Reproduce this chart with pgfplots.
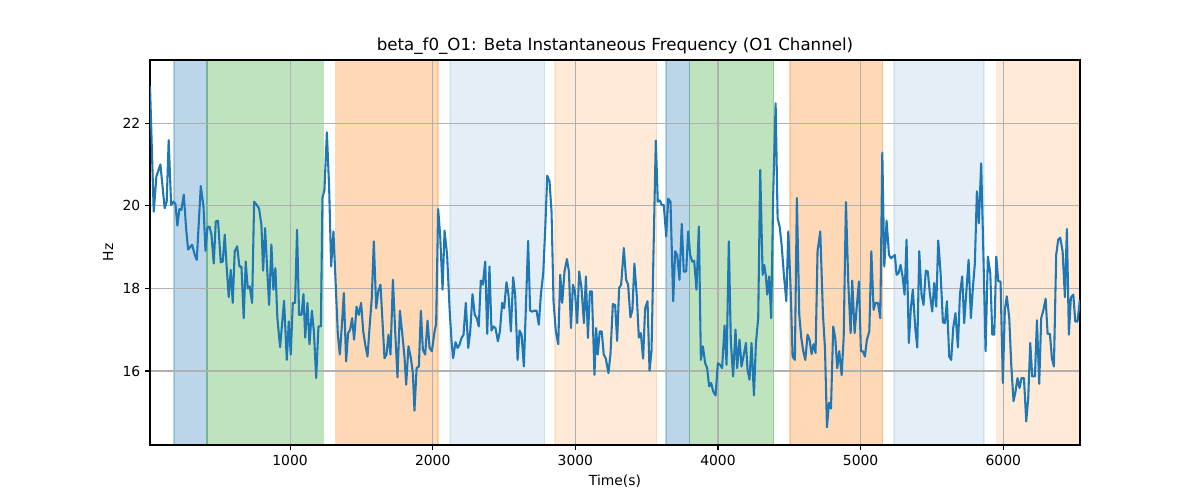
\documentclass[border=0pt]{standalone}
\usepackage{fontspec}
\setmainfont{DejaVu Sans}
\usepackage{pgfplots}
\pgfplotsset{compat=1.18}
\definecolor{tabblue}{HTML}{1F77B4}
\definecolor{tabgreen}{HTML}{2CA02C}
\definecolor{taborange}{HTML}{FF7F0E}
\definecolor{gridgray}{HTML}{B0B0B0}
\begin{document}
\begin{tikzpicture}
\begin{axis}[
  name=ax,
  set layers,
  scale only axis,
  width=669.6pt, height=277.2pt,
  xmin=18, xmax=6538, ymin=14.21, ymax=23.53,
  xtick={1000,2000,3000,4000,5000,6000},
  ytick={16,18,20,22},
  grid=major,
  major grid style={draw=gridgray, line width=0.8pt},
  axis line style={line width=0.8pt},
  tick style={line width=0.8pt, black},
  tick align=outside,
  major tick length=3.5pt,
  xtick pos=bottom, ytick pos=left,
  /pgf/number format/assume math mode=true,
  /pgf/number format/1000 sep={},
  ticklabel style={font=\fontsize{10}{12}\selectfont},
  label style={font=\fontsize{10}{12}\selectfont},
  title style={font=\fontsize{12}{14.4}\selectfont, inner sep=0pt, yshift=-2pt},
  title={beta\_f0\_O1: Beta Instantaneous Frequency (O1 Channel)},
  xlabel={Time(s)},
  ylabel={Hz},
]
% spans
\pgfplotsset{spanstyle/.style={on layer=axis background, line width=1pt}}
\addplot[spanstyle, fill=tabblue, draw=tabblue, fill opacity=0.3, draw opacity=0.3] coordinates {(187,14.21) (187,23.53) (418,23.53) (418,14.21)} -- cycle;
\addplot[spanstyle, fill=tabgreen, draw=tabgreen, fill opacity=0.3, draw opacity=0.3] coordinates {(418,14.21) (418,23.53) (1234,23.53) (1234,14.21)} -- cycle;
\addplot[spanstyle, fill=taborange, draw=taborange, fill opacity=0.3, draw opacity=0.3] coordinates {(1320,14.21) (1320,23.53) (2038,23.53) (2038,14.21)} -- cycle;
\addplot[spanstyle, fill=tabblue, draw=tabblue, fill opacity=0.12, draw opacity=0.12] coordinates {(2120,14.21) (2120,23.53) (2784,23.53) (2784,14.21)} -- cycle;
\addplot[spanstyle, fill=taborange, draw=taborange, fill opacity=0.16, draw opacity=0.16] coordinates {(2856,14.21) (2856,23.53) (3571,23.53) (3571,14.21)} -- cycle;
\addplot[spanstyle, fill=tabblue, draw=tabblue, fill opacity=0.3, draw opacity=0.3] coordinates {(3635,14.21) (3635,23.53) (3801,23.53) (3801,14.21)} -- cycle;
\addplot[spanstyle, fill=tabgreen, draw=tabgreen, fill opacity=0.3, draw opacity=0.3] coordinates {(3801,14.21) (3801,23.53) (4390,23.53) (4390,14.21)} -- cycle;
\addplot[spanstyle, fill=taborange, draw=taborange, fill opacity=0.3, draw opacity=0.3] coordinates {(4504,14.21) (4504,23.53) (5154,23.53) (5154,14.21)} -- cycle;
\addplot[spanstyle, fill=tabblue, draw=tabblue, fill opacity=0.12, draw opacity=0.12] coordinates {(5233,14.21) (5233,23.53) (5865,23.53) (5865,14.21)} -- cycle;
\addplot[spanstyle, fill=taborange, draw=taborange, fill opacity=0.16, draw=none] coordinates {(5949,14.21) (5949,23.53) (6538,23.53) (6538,14.21)} -- cycle;
% signal
\addplot[tabblue, line width=1.5pt, line join=round, mark=none] coordinates {
(18,22.9) (44,19.86) (63,20.71) (91,21.0) (121,19.94) (135,20.1) (149,21.59) (166,20.02) (182,20.1) (196,20.05) (210,19.52) (224,19.92) (238,19.9) (255,20.27) (271,19.46) (285,18.94) (313,19.06) (332,18.81) (346,18.69) (374,20.48) (393,19.98) (407,18.91) (421,19.48) (435,19.5) (449,19.3) (465,18.6) (479,19.62) (495,19.64) (514,18.63) (528,18.65) (542,19.3) (556,18.49) (570,17.79) (584,18.45) (598,17.65) (612,18.9) (629,19.02) (645,18.53) (659,18.53) (675,17.28) (689,18.65) (703,18.0) (717,18.05) (734,17.65) (748,20.1) (767,20.02) (783,19.93) (799,19.54) (811,18.43) (825,19.46) (839,18.49) (853,17.6) (869,19.06) (883,17.97) (897,18.49) (911,17.28) (930,16.58) (958,17.7) (977,16.27) (991,17.2) (1005,16.4) (1019,17.65) (1035,17.65) (1049,19.42) (1063,17.36) (1080,17.36) (1094,17.86)
(1106,16.81) (1122,17.65) (1136,16.65) (1153,17.46) (1167,16.96) (1183,15.83) (1199,17.08) (1216,17.08) (1227,20.19) (1241,20.39) (1258,21.78) (1274,20.43) (1288,18.53) (1304,19.38) (1321,18.01) (1335,16.88) (1349,16.4) (1365,17.2) (1377,17.89) (1393,16.23) (1407,16.92) (1421,17.0) (1435,17.28) (1449,16.76) (1466,17.56) (1482,17.36) (1498,17.65) (1513,16.96) (1527,16.64) (1543,16.35) (1557,17.04) (1573,17.77) (1587,19.14) (1604,17.52) (1618,17.93) (1634,18.09) (1648,17.2) (1662,16.31) (1676,16.4) (1690,16.88) (1704,16.4) (1721,18.21) (1737,16.96) (1753,15.85) (1770,17.46) (1786,16.92) (1802,16.35) (1814,15.67) (1830,16.6) (1847,16.31) (1861,15.95) (1872,15.04) (1887,16.07) (1903,16.11) (1917,17.46) (1931,16.52) (1947,16.4) (1964,17.22) (1978,16.56) (1994,16.48) (2013,16.96) (2024,17.14) (2038,19.92) (2052,19.3) (2069,17.97) (2083,19.4)
(2101,18.81) (2118,17.52) (2132,16.72) (2143,16.31) (2160,16.7) (2174,16.56) (2188,16.64) (2202,16.8) (2216,16.88) (2232,17.65) (2249,16.56) (2263,16.96) (2279,17.86) (2295,17.36) (2309,17.28) (2323,17.08) (2337,18.19) (2351,18.09) (2368,18.65) (2382,16.9) (2398,18.53) (2412,16.98) (2426,17.08) (2440,17.04) (2457,16.72) (2471,16.96) (2487,17.65) (2501,17.52) (2517,18.15) (2531,17.85) (2548,16.96) (2564,18.27) (2578,17.85) (2595,16.27) (2609,16.98) (2623,16.88) (2639,16.11) (2669,19.15) (2683,17.46) (2697,17.44) (2711,17.46) (2728,17.46) (2744,17.12) (2758,17.85) (2775,18.37) (2789,19.46) (2803,20.73) (2819,20.59) (2833,19.86) (2847,17.69) (2863,16.96) (2880,16.65) (2894,18.33) (2908,17.65) (2924,18.41) (2941,18.71) (2955,18.41) (2969,17.04) (2983,18.09) (2997,17.93) (3013,17.16) (3027,18.41) (3043,18.01) (3060,17.16) (3074,18.29) (3088,16.8) (3102,17.93) (3116,17.93)
(3134,15.91) (3146,17.04) (3157,16.4) (3171,16.96) (3185,16.96) (3199,16.4) (3213,16.31) (3232,15.95) (3246,16.4) (3263,17.62) (3279,17.6) (3293,16.73) (3307,18.01) (3321,18.09) (3340,18.98) (3356,18.21) (3370,18.09) (3386,17.3) (3400,17.48) (3414,18.6) (3431,17.81) (3445,16.81) (3459,16.92) (3475,16.3) (3489,17.52) (3506,17.69) (3520,16.01) (3534,16.48) (3548,18.9) (3564,21.58) (3578,20.1) (3592,20.13) (3606,20.02) (3620,20.02) (3637,19.26) (3651,20.17) (3667,20.1) (3686,17.69) (3700,18.9) (3714,18.81) (3730,18.21) (3746,19.56) (3760,18.41) (3777,18.41) (3791,19.38) (3805,18.81) (3819,18.65) (3833,18.67) (3849,17.97) (3866,19.5) (3880,16.27) (3894,16.6) (3910,16.19) (3924,16.07) (3938,15.63) (3952,15.71) (3966,15.51) (3983,15.41) (3999,16.19) (4015,16.15) (4029,16.07) (4046,17.1) (4060,16.15) (4076,19.14) (4090,16.72) (4106,15.87) (4123,17.0) (4134,16.07) (4151,16.76) (4165,16.11) (4181,16.4)
(4196,16.68) (4207,16.03) (4221,15.79) (4235,16.68) (4252,15.41) (4266,16.68) (4282,17.28) (4296,20.87) (4313,18.33) (4324,18.57) (4336,18.29) (4345,17.85) (4359,18.29) (4373,17.28) (4387,20.27) (4404,22.48) (4418,19.7) (4432,19.5) (4446,19.06) (4462,18.33) (4479,17.69) (4493,19.38) (4509,18.01) (4523,16.35) (4539,16.27) (4553,20.19) (4570,17.36) (4584,16.8) (4598,16.48) (4612,16.27) (4628,16.88) (4642,16.76) (4656,16.41) (4670,16.65) (4684,16.44) (4698,18.9) (4717,19.38) (4736,17.36) (4750,16.56) (4764,14.64) (4778,15.23) (4792,15.09) (4808,17.08) (4822,16.8) (4836,16.07) (4850,16.48) (4867,15.9) (4881,16.8) (4897,20.09) (4913,18.17) (4930,16.92) (4941,18.19) (4958,16.92) (4972,17.52) (4988,18.17) (5002,16.48) (5016,16.48) (5030,16.35) (5044,16.76) (5061,16.96) (5075,18.9) (5091,17.48) (5105,17.65) (5121,17.65) (5138,17.28) (5152,21.29) (5166,18.53) (5182,19.64) (5199,18.81) (5213,18.73)
(5240,18.81) (5252,18.33) (5266,18.37) (5280,18.57) (5294,18.29) (5308,17.85) (5322,19.18) (5338,16.68) (5352,17.52) (5366,17.97) (5383,17.04) (5397,16.57) (5411,18.9) (5427,17.85) (5441,17.6) (5457,18.43) (5471,18.41) (5485,17.89) (5502,17.44) (5516,18.13) (5530,17.56) (5544,19.16) (5560,18.41) (5577,17.18) (5591,17.16) (5605,17.69) (5621,16.35) (5635,16.27) (5649,17.04) (5665,17.4) (5682,16.57) (5696,17.85) (5712,18.29) (5726,17.16) (5743,18.01) (5757,18.69) (5773,17.28) (5787,18.01) (5801,18.61) (5815,20.35) (5829,19.58) (5845,21.03) (5859,19.06) (5876,16.48) (5892,18.77) (5909,18.37) (5923,16.88) (5937,16.88) (5951,18.77) (5965,18.17) (5981,18.17) (5997,15.71) (6011,17.48) (6025,17.81) (6042,17.28) (6056,16.15) (6072,15.27) (6086,15.51) (6100,15.83) (6114,15.59) (6128,15.83) (6145,15.83) (6161,14.78) (6175,15.35) (6189,16.68) (6203,15.87) (6222,15.87) (6236,17.23) (6252,15.69) (6266,17.28) (6280,17.46) (6297,17.75) (6311,16.9) (6327,16.9) (6341,16.31) (6355,16.11) (6371,18.81) (6385,19.18) (6399,19.23) (6416,18.9) (6432,17.79) (6446,19.44) (6460,16.88) (6474,17.78) (6491,17.85) (6505,17.2) (6521,17.2) (6537,17.73)
};
\end{axis}
\pgfresetboundingbox
\path[use as bounding box] ([xshift=-108pt,yshift=-39.6pt]ax.south west) rectangle ([xshift=86.4pt,yshift=43.2pt]ax.north east);
\end{tikzpicture}
\end{document}
